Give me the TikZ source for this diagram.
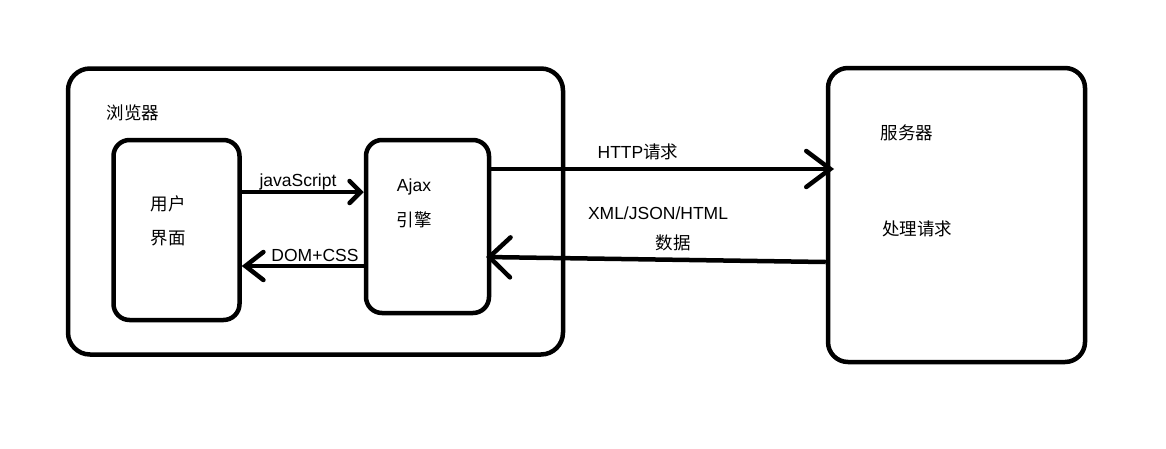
\documentclass[tikz,border=0pt]{standalone}
\usepackage{fontspec}
\setmainfont{Liberation Sans}
\newfontfamily\cjk{Noto Sans CJK SC}
\usetikzlibrary{arrows.meta}
\begin{document}
\begin{tikzpicture}[x=1pt,y=-1pt,
  box/.style={draw,line width=4.5pt,rounded corners=16pt},
  conn/.style={line width=4.5pt},
  hd/.style 2 args={-{Straight Barb[length=#1,width=#2,line width=4.5pt,line cap=round]}},
  lbl/.style={font=\fontsize{17.5}{20}\selectfont,inner sep=0pt},
  clbl/.style={font=\fontsize{17.5}{20}\selectfont\cjk,inner sep=0pt}]
\useasboundingbox (0,0) rectangle (1166,448);
\node[box,minimum width=495pt,minimum height=286pt,inner sep=0pt,rounded corners=22pt] (browser) at (315.5,211.5) {};
\node[box,minimum width=126pt,minimum height=180pt,inner sep=0pt] (ui) at (176.5,230) {};
\node[box,minimum width=123pt,minimum height=173pt,inner sep=0pt] (ajax) at (427.5,226.5) {};
\node[box,minimum width=257pt,minimum height=294pt,inner sep=0pt,rounded corners=20pt] (server) at (956.5,215) {};
\node[clbl] (tb) at (133,113) {浏览器};
\node[clbl] (tu1) at (168,204) {用户};
\node[clbl] (tu2) at (168,238) {界面};
\node[lbl] (ta1) at (414,187) {Ajax};
\node[clbl] (ta2) at (414,220) {引擎};
\node[clbl] (ts1) at (907,133) {服务器};
\node[clbl] (ts2) at (917,229) {处理请求};
\draw[conn,hd={11pt}{22pt}] (ui.east |- 0,192) -- (ajax.west |- 0,192);
\node[lbl] (ljs) at (298,182) {javaScript};
\draw[conn,hd={18pt}{28pt}] (ajax.west |- 0,266) -- (ui.east |- 0,266);
\node[lbl] (ldom) at (315,255) {DOM+CSS};
\coordinate (h1) at (ajax.east |- 0,169);
\coordinate (h2) at (834,169);
\draw[conn,hd={24pt}{36pt}] (h1) -- (h2);
\node[lbl] (lhttp) at (638,152) {HTTP{\cjk 请求}};
\coordinate (r1) at (server.west |- 0,262);
\coordinate (r2) at (486,257);
\draw[conn,hd={21pt}{40pt}] (r1) -- (r2);
\node[lbl] (lxml) at (658,213) {XML/JSON/HTML};
\node[clbl] (ldata) at (673,243) {数据};
\end{tikzpicture}
\end{document}
